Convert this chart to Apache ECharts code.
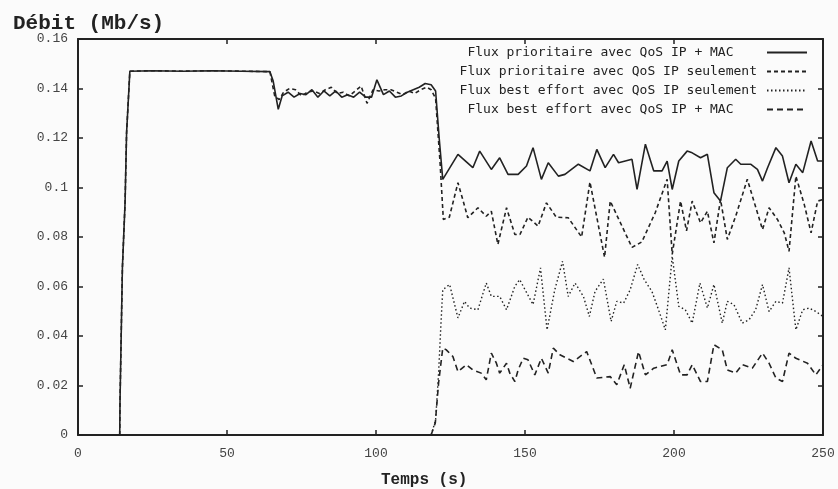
<!DOCTYPE html>
<html>
<head>
<meta charset="utf-8">
<script src="https://cdn.jsdelivr.net/npm/echarts@6/dist/echarts.min.js"></script>
<style>
html,body{margin:0;padding:0;background:#fbfbfb;}
#c{width:838px;height:489px;}
</style>
</head>
<body>
<div id="c"></div>
<script>
// ---- Data ----
const seriesNames = [
  'Flux prioritaire avec QoS IP + MAC   ',
  'Flux prioritaire avec QoS IP seulement',
  'Flux best effort avec QoS IP seulement',
  'Flux best effort avec QoS IP + MAC   '
];

// Flux prioritaire avec QoS IP + MAC (solid)
const prioMacT = [14, 14.1, 14.9, 15.8, 16.3, 17.4, 25, 35, 45, 55, 64.4, 65.5, 67.2, 68.5, 70.5, 72.5, 74.5, 76.5, 78.5, 80.5, 82.5, 84.5, 86.5, 88.5, 90.5, 92.5, 94.5, 96.5, 98.5, 100.3, 102.5, 104.5, 106.5, 108.5, 110.5, 112.5, 114.5, 116.5, 118.5, 120, 121.2, 122.4,
  127.5, 132.5, 134.8, 138.7, 141.5, 144.3, 147.7, 150.5, 152.7, 155.5, 157.8, 161.2, 163.4, 167.9, 171.8, 174.1, 176.9, 179.7, 181.4, 185.9, 187.6, 190.4, 193.2, 196, 197.7, 199.4, 201.6, 204.4, 206.1, 208.9, 211.2, 213.4, 215.6, 217.9, 220.7, 222.4, 225.7, 228, 229.7, 231.4, 234.2, 236.4, 238.6, 240.9, 243.2, 246, 248.2, 250];
const prioMacV = [0, 0.0135, 0.0676, 0.094, 0.122, 0.147, 0.1472, 0.147, 0.1472, 0.147, 0.1468, 0.143, 0.1316, 0.137, 0.1385, 0.1365, 0.138, 0.1375, 0.1395, 0.1365, 0.139, 0.137, 0.139, 0.1365, 0.1375, 0.1365, 0.1385, 0.1365, 0.1365, 0.1435, 0.1375, 0.139, 0.1365, 0.137, 0.1385, 0.1395, 0.1405, 0.142, 0.1415, 0.139, 0.12, 0.1033,
  0.1134, 0.108, 0.1147, 0.1073, 0.112, 0.1053, 0.1053, 0.1087, 0.1161, 0.1033, 0.11, 0.1046, 0.1053, 0.1094, 0.1067, 0.1154, 0.108, 0.1134, 0.11, 0.1114, 0.0992, 0.1175, 0.1067, 0.1067, 0.1107, 0.0992, 0.1107, 0.1147, 0.114, 0.112, 0.1134, 0.0979, 0.0945, 0.108, 0.1114, 0.1094, 0.1094, 0.1073, 0.1026, 0.108, 0.1161, 0.1127, 0.1019, 0.1094, 0.106, 0.1188, 0.1107, 0.1107];

// Flux prioritaire avec QoS IP seulement (dashed)
const prioIpT = [14, 14.1, 14.9, 15.8, 16.3, 17.4, 25, 35, 45, 55, 64.4, 66, 67.5, 69, 71, 73, 75, 77, 79, 81, 83, 85, 87, 89, 91, 93, 95, 97, 99, 101, 103, 105, 107, 109, 111, 113, 115, 117, 118.5, 120, 121.5, 122.6,
  124.6, 127.5, 129.1, 130.8, 134.2, 137, 138.7, 140.9, 143.8, 146.6, 148.3, 151, 154.4, 157.2, 160.5, 164.5, 169, 171.8, 176.7, 178.6, 185.9, 189.2, 193.7, 197.7, 199.4, 202.2, 204.2, 206.1, 208.9, 211.2, 213.4, 215.6, 217.9, 220.7, 224.6, 229.7, 231.9, 234.7, 237, 238.6, 240.9, 243.7, 246, 248.2, 250];
const prioIpV = [0, 0.0135, 0.0676, 0.094, 0.122, 0.147, 0.1472, 0.147, 0.1472, 0.147, 0.1468, 0.137, 0.1355, 0.1385, 0.14, 0.1395, 0.137, 0.1385, 0.139, 0.138, 0.1395, 0.1405, 0.138, 0.1385, 0.137, 0.139, 0.141, 0.134, 0.1395, 0.139, 0.1395, 0.1395, 0.1385, 0.1375, 0.139, 0.138, 0.1395, 0.1405, 0.1395, 0.136, 0.11, 0.0871,
  0.088, 0.1019, 0.0952, 0.0878, 0.0918, 0.0884, 0.0904, 0.077, 0.0918, 0.081, 0.081, 0.088, 0.0844, 0.0938, 0.088, 0.0878, 0.08, 0.1022, 0.0718, 0.0945, 0.0758, 0.078, 0.0898, 0.1033, 0.073, 0.0945, 0.0825, 0.0945, 0.0857, 0.0904, 0.0776, 0.0952, 0.079, 0.0884, 0.1033, 0.083, 0.0918, 0.0871, 0.0817, 0.0742, 0.1046, 0.0932, 0.0817, 0.0945, 0.0952];

// Flux best effort avec QoS IP seulement (dotted)
const beIpT = [118.5, 120, 121, 121.8, 122.4, 124.7, 127.5, 129.7, 131.4, 134.2, 137, 138.7, 141.5, 143.8, 146.6, 148.2, 152.7, 155.2, 157.4, 160, 162.6, 164.5, 166.8, 169.6, 171.6, 173.5, 176.3, 178.9, 180.8, 183.1, 185.3, 187.8, 190, 192.6, 194.8, 197.1, 199.4, 201.6, 203.8, 206.1, 208.7, 211.2, 213.4, 216.2, 217.9, 220.1, 222.9, 225.2, 227.4, 229.7, 231.9, 234.2, 236.4, 238.6, 240.9, 243.2, 245.4, 247.6, 250];
const beIpV = [0, 0.006, 0.025, 0.045, 0.0587, 0.0608, 0.0473, 0.054, 0.0513, 0.0506, 0.0614, 0.056, 0.056, 0.0506, 0.0601, 0.0628, 0.0527, 0.0675, 0.0425, 0.0587, 0.0702, 0.056, 0.0614, 0.056, 0.0479, 0.058, 0.063, 0.0459, 0.054, 0.0533, 0.0587, 0.0689, 0.0628, 0.058, 0.0506, 0.0425, 0.0722, 0.052, 0.0506, 0.0452, 0.0614, 0.0513, 0.0608, 0.0452, 0.054, 0.0527, 0.0452, 0.0466, 0.0506, 0.0608, 0.0499, 0.054, 0.0533, 0.0675, 0.0425, 0.0506, 0.0513, 0.0499, 0.0479];

// Flux best effort avec QoS IP + MAC (long dashes)
const beMacT = [118.5, 119.9, 121, 122.4, 123.5, 125.8, 127.5, 130.3, 132.5, 135.3, 137, 138.7, 140.4, 141.5, 143.8, 144.9, 146.6, 147.7, 149.4, 151, 153.3, 155.5, 157.8, 159.5, 161.7, 166.2, 170.7, 174.1, 178.6, 180.8, 183.3, 185.3, 188.1, 190.4, 193.2, 197.7, 199.4, 202.2, 204.4, 206.1, 208.9, 211.2, 213.4, 216.2, 217.9, 220.7, 222.9, 226.3, 229.7, 231.9, 234.2, 236.4, 238.6, 240.9, 244.8, 247.6, 250];
const beMacV = [0, 0.0049, 0.021, 0.0351, 0.0345, 0.0317, 0.0256, 0.0284, 0.0263, 0.025, 0.0223, 0.0331, 0.029, 0.025, 0.029, 0.025, 0.0216, 0.0263, 0.031, 0.0304, 0.0243, 0.031, 0.025, 0.0351, 0.0324, 0.0297, 0.0337, 0.023, 0.0236, 0.0203, 0.0284, 0.0189, 0.0337, 0.0243, 0.027, 0.0284, 0.0344, 0.0243, 0.0243, 0.0284, 0.0216, 0.0216, 0.0365, 0.0344, 0.0263, 0.025, 0.0284, 0.027, 0.0331, 0.029, 0.023, 0.0216, 0.0331, 0.031, 0.029, 0.0243, 0.0284];

const xMin = 0, xMax = 250, xStep = 50;
const yMin = 0, yMax = 0.16, yStep = 0.02;

// ---- Chart ----
const zip = (t, v) => t.map((x, i) => [x, v[i]]);
const ink = '#222';
const mono = 'Liberation Mono';

const frameAxisX = (pos, showLabel) => ({
  type: 'value', min: xMin, max: xMax, interval: xStep, position: pos,
  axisLine: { show: true, onZero: false, lineStyle: { color: ink, width: 2 } },
  axisTick: { show: true, inside: true, length: 5, lineStyle: { color: ink, width: 1.5 } },
  axisLabel: { show: showLabel, fontFamily: mono, fontSize: 13, color: '#444', margin: 12 },
  splitLine: { show: false }
});
const frameAxisY = (pos, showLabel) => ({
  type: 'value', min: yMin, max: yMax, interval: yStep, position: pos,
  axisLine: { show: true, onZero: false, lineStyle: { color: ink, width: 2 } },
  axisTick: { show: true, inside: true, length: 5, lineStyle: { color: ink, width: 1.5 } },
  axisLabel: { show: showLabel, fontFamily: mono, fontSize: 13, color: '#444', margin: 10 },
  splitLine: { show: false }
});

const lineSeries = (name, t, v, type, width) => ({
  name, type: 'line', data: zip(t, v), xAxisIndex: 0, yAxisIndex: 0,
  symbol: 'none', showSymbol: false, connectNulls: false,
  lineStyle: { color: ink, width: width, type: type },
  itemStyle: { color: ink },
  z: 3
});

const option = {
  animation: false,
  backgroundColor: '#fbfbfb',
  title: [
    {
      text: 'Débit (Mb/s)', left: 8, top: 8,
      textStyle: { fontFamily: mono, fontSize: 21, fontWeight: 'bold', color: '#222' }
    },
    {
      text: 'Temps (s)', left: 376, top: 467,
      textStyle: { fontFamily: mono, fontSize: 16, fontWeight: 'bold', color: '#222' }
    }
  ],
  grid: { left: 78, right: 15, top: 39, bottom: 54, containLabel: false },
  xAxis: [frameAxisX('bottom', true), frameAxisX('top', false)],
  yAxis: [frameAxisY('left', true), frameAxisY('right', false)],
  legend: {
    orient: 'vertical', right: 30, top: 46, padding: 0,
    align: 'right', itemWidth: 40, itemHeight: 14, itemGap: 6,
    itemStyle: { color: 'rgba(0,0,0,0)', borderColor: 'rgba(0,0,0,0)', borderWidth: 0, opacity: 0 },
    textStyle: { fontFamily: 'DejaVu Sans Mono', fontSize: 13, color: '#222', padding: [0, 5, 0, 0] },
    data: seriesNames
  },
  series: [
    lineSeries(seriesNames[0], prioMacT, prioMacV, 'solid', 1.6),
    lineSeries(seriesNames[1], prioIpT, prioIpV, [4, 3], 1.6),
    lineSeries(seriesNames[2], beIpT, beIpV, [1.5, 2.5], 1.4),
    lineSeries(seriesNames[3], beMacT, beMacV, [6, 4], 1.6)
  ]
};

const chart = echarts.init(document.getElementById('c'), null, { renderer: 'canvas' });
chart.setOption(option);
</script>
</body>
</html>
